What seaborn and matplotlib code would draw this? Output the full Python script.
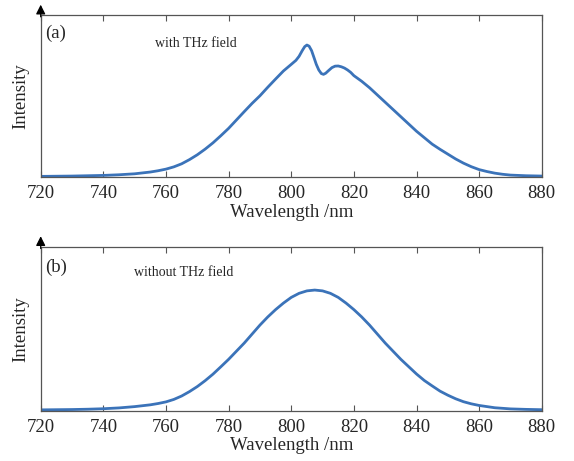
import matplotlib
matplotlib.use("Agg")
import matplotlib.pyplot as plt
import seaborn as sns
import pandas as pd

# spectrum with THz field (arbitrary units)
wl_with = [720, 725, 730, 735, 740, 745, 750, 755, 757.5, 760, 762.5, 765, 767.5,
           770, 772.5, 775, 777.5, 780, 782.5, 785, 787.5, 790, 792.5, 795, 797.5,
           800, 801.5, 802.5, 803.5, 804.3, 805, 805.7, 806.5, 807.3, 808, 808.8,
           809.6, 810.3, 811, 812, 813, 814, 815, 816, 817, 818, 819, 820, 822.5,
           825, 827.5, 830, 832.5, 835, 837.5, 840, 842.5, 845, 847.5, 850, 852.5,
           855, 857.5, 860, 862.5, 865, 867.5, 870, 875, 880]
int_with = [0.0, 0.001, 0.002, 0.004, 0.006, 0.01, 0.016, 0.027, 0.035, 0.045,
            0.059, 0.078, 0.104, 0.134, 0.169, 0.208, 0.252, 0.298, 0.35, 0.402,
            0.453, 0.50, 0.553, 0.604, 0.654, 0.695, 0.72, 0.745, 0.78, 0.805,
            0.815, 0.808, 0.78, 0.735, 0.695, 0.66, 0.638, 0.633, 0.64, 0.658,
            0.675, 0.684, 0.685, 0.68, 0.672, 0.66, 0.645, 0.625, 0.59, 0.55,
            0.505, 0.46, 0.415, 0.37, 0.325, 0.28, 0.24, 0.20, 0.168, 0.138,
            0.108, 0.082, 0.06, 0.042, 0.03, 0.02, 0.013, 0.008, 0.004, 0.002]

# spectrum without THz field
wl_without = [720, 725, 730, 735, 740, 745, 750, 755, 757.5, 760, 762.5, 765, 767.5,
              770, 772.5, 775, 777.5, 780, 782.5, 785, 787.5, 790, 792.5, 795,
              797.5, 800, 802.5, 805, 807.5, 810, 812.5, 815, 817.5, 820, 822.5,
              825, 827.5, 830, 832.5, 835, 837.5, 840, 842.5, 845, 847.5, 850,
              852.5, 855, 857.5, 860, 865, 870, 875, 880]
int_without = [0.0, 0.001, 0.002, 0.004, 0.007, 0.012, 0.02, 0.031, 0.039, 0.049,
               0.064, 0.085, 0.112, 0.143, 0.179, 0.219, 0.264, 0.31, 0.36, 0.41,
               0.465, 0.52, 0.57, 0.615, 0.655, 0.69, 0.715, 0.73, 0.735, 0.73,
               0.715, 0.69, 0.655, 0.615, 0.57, 0.52, 0.465, 0.41, 0.36, 0.31,
               0.265, 0.22, 0.18, 0.147, 0.115, 0.09, 0.068, 0.05, 0.037, 0.027,
               0.013, 0.006, 0.003, 0.001]

xticks = [720, 740, 760, 780, 800, 820, 840, 860, 880]

LINE = "#3b73b9"
GREY = "#555555"

sns.set_style("white")
plt.rcParams["font.family"] = ["Liberation Serif", "DejaVu Serif"]

fig = plt.figure(figsize=(5.74, 4.61), dpi=100)
ax_top = fig.add_axes([0.0709, 0.616, 0.873, 0.351])
ax_bot = fig.add_axes([0.0709, 0.1095, 0.873, 0.355])

panels = [
    (ax_top, wl_with, int_with, "(a)", "with THz field", 0.89, 0.31, 0.827),
    (ax_bot, wl_without, int_without, "(b)", "without THz field", 0.874, 0.286, 0.843),
]

for ax, wl, inten, tag, note, tag_y, note_x, note_y in panels:
    df = pd.DataFrame({"wl": wl, "I": inten})
    sns.lineplot(data=df, x="wl", y="I", ax=ax, color=LINE, linewidth=2.0)
    ax.set_xlim(720, 880)
    ax.set_ylim(-0.004, 1.0)
    ax.set_xticks(xticks)
    ax.set_yticks([])
    ax.tick_params(axis="x", direction="in", length=4, width=0.8, color=GREY,
                   top=True, bottom=True, labelsize=13.5, pad=6)
    for s in ax.spines.values():
        s.set_color(GREY)
        s.set_linewidth(0.9)
    ax.set_xlabel("Wavelength /nm", fontsize=13.5, labelpad=1)
    ax.set_ylabel("Intensity", fontsize=13.5, labelpad=8)
    ax.text(0.009, tag_y, tag, transform=ax.transAxes, fontsize=13.5,
            ha="left", va="center")
    ax.text(note_x, note_y, note, transform=ax.transAxes, fontsize=10,
            ha="center", va="center")
    # arrow head on the y axis
    ax.annotate("", xy=(0, 1.065), xytext=(0, 0.99), xycoords="axes fraction",
                arrowprops=dict(arrowstyle="-|>", color="black", lw=0.9,
                                mutation_scale=14, shrinkA=0, shrinkB=0),
                annotation_clip=False)

fig.savefig("out.png", dpi=100)
